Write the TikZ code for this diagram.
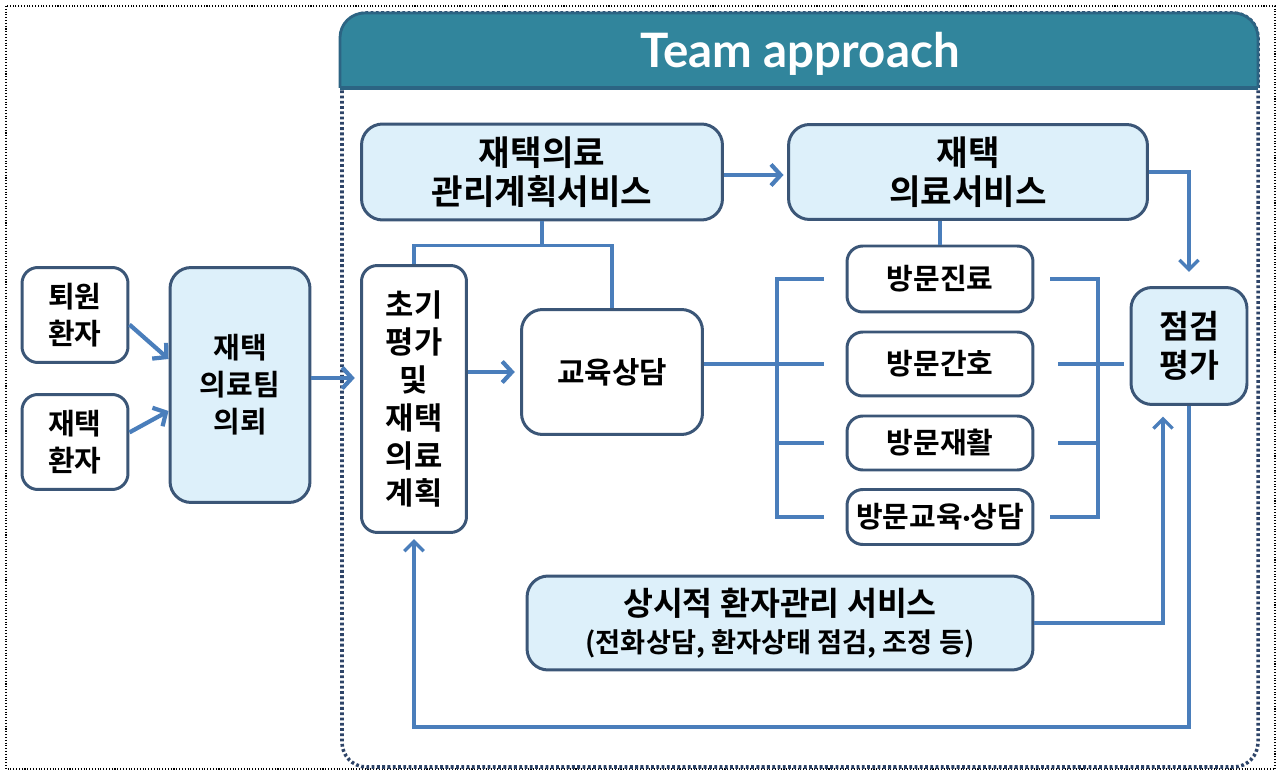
\documentclass[tikz,border=0pt]{standalone}
\usepackage{fontspec}
\setmainfont{Noto Sans CJK KR}[BoldFont={Noto Sans CJK KR Bold}]
\newfontfamily\headfont{Lato}
\usetikzlibrary{arrows.meta,calc}

\definecolor{linkblue}{HTML}{4A7EBB}
\definecolor{boxedge}{HTML}{3B5677}
\definecolor{boxfill}{HTML}{DDF0FA}
\definecolor{headfill}{HTML}{31859C}
\definecolor{headedge}{HTML}{2C6483}
\definecolor{framedot}{HTML}{2E4468}

\tikzset{
  box/.style={draw=boxedge, line width=1.7pt, rounded corners=9pt, fill=white,
    align=center, inner sep=0pt, font=\fontsize{16.5}{21}\selectfont\bfseries},
  bluebox/.style={box, fill=boxfill},
  link/.style={draw=linkblue, line width=2.4pt},
  thinlink/.style={draw=linkblue, line width=1.9pt},
  arr/.style={link, -{Straight Barb[length=5.5pt,width=12pt]}},
  thinarr/.style={thinlink, -{Straight Barb[length=5.5pt,width=11pt]}}
}

\begin{document}
\begin{tikzpicture}[x=0.02cm,y=-0.02cm]
  \useasboundingbox (0,0) rectangle (1276,770);
  \draw[black, densely dotted, line width=0.6pt] (6,6) rectangle (1275,769);

  % team approach frame
  \draw[framedot, line width=2pt, dash pattern=on 1.6pt off 1.4pt, rounded corners=14pt]
    (342,13) rectangle (1258,767);
  \begin{scope}
    \clip (330,0) rectangle (1270,88);
    \draw[fill=headfill, draw=headedge, line width=1.6pt, rounded corners=14pt]
      (340,13) rectangle (1258,130);
  \end{scope}
  \draw[headedge, line width=2pt] (340,88) -- (1258,88);
  \node[font=\headfont\fontsize{27}{30}\selectfont\bfseries, text=white] (title) at (800,54) {Team approach};

  % left part
  \node[box, minimum width=2.12cm, minimum height=1.9cm] (toewon) at (75,315) {퇴원\\환자};
  \node[box, minimum width=2.12cm, minimum height=1.9cm] (jaetaek) at (75,442) {재택\\환자};
  \node[bluebox, minimum width=2.8cm, minimum height=4.7cm, rounded corners=12pt] (team) at (240,385) {재택\\의료팀\\의뢰};

  % inside team approach
  \node[box, minimum width=2.1cm, minimum height=5.34cm, font=\fontsize{17.5}{21.5}\selectfont\bfseries] (chogi) at (414,399) {초기\\평가\\및\\재택\\의료\\계획};
  \node[box, minimum width=3.62cm, minimum height=2.5cm, rounded corners=12pt, font=\fontsize{17}{21}\selectfont\bfseries] (edu) at (612,372) {교육상담};
  \node[bluebox, minimum width=7.22cm, minimum height=1.92cm, rounded corners=12pt, font=\fontsize{19.5}{22}\selectfont\bfseries] (plan) at (542,172) {재택의료\\관리계획서비스};
  \node[bluebox, minimum width=7.18cm, minimum height=1.9cm, rounded corners=12pt, font=\fontsize{19.5}{22}\selectfont\bfseries] (service) at (968,172) {재택\\의료서비스};
  \node[box, minimum width=3.72cm, minimum height=1.32cm] (v1) at (940,279) {방문진료};
  \node[box, minimum width=3.72cm, minimum height=1.28cm] (v2) at (940,364) {방문간호};
  \node[box, minimum width=3.72cm, minimum height=1.08cm] (v3) at (940,443) {방문재활};
  \node[box, minimum width=3.72cm, minimum height=1.1cm] (v4) at (940,517) {방문교육{\headfont\bfseries ·}상담};
  \node[bluebox, minimum width=2.32cm, minimum height=2.34cm, rounded corners=12pt, font=\fontsize{18.5}{22}\selectfont\bfseries] (check) at (1189,346) {점검\\평가};
  \node[bluebox, minimum width=10.12cm, minimum height=1.88cm, rounded corners=12pt, font=\fontsize{18.5}{21}\selectfont\bfseries] (always) at (780,623)
    {상시적 환자관리 서비스\\{\fontsize{15.5}{18}\selectfont (전화상담, 환자상태 점검, 조정 등)}};

  \coordinate (lb) at (777,364);
  \coordinate (rb) at (1098,364);

  % connectors
  \draw[arr] (toewon.-10) -- (team.160);
  \draw[arr] (jaetaek.10) -- (team.200);
  \draw[arr, shorten >=3pt] ($(team.east)+(0,-7)$) -- ($(team.east -| chogi.west)+(0,-7)$);
  \draw[arr, shorten >=3pt] (edu.west -| chogi.east) -- (edu.west);
  \draw[thinlink] (plan.south) -- ++(0,24) -| (chogi.north);
  \draw[thinlink] (plan.south) -- ++(0,24) -| (edu.north);
  \draw[arr, shorten >=2pt] ($(plan.east)+(0,3)$) -- ($(service.west)+(0,3)$);
  \draw[link] (v1.north |- service.south) -- (v1.north);
  \draw[thinarr, shorten >=8pt] (service.east) -| (check.north);

  \draw[link] (edu.east |- lb) -- (lb);
  \draw[link] ($(v1.west)+(-22,0)$) -- (v1.west -| lb) -- (v4.west -| lb) -- ($(v4.west)+(-22,0)$);
  \draw[link] (v2.west -| lb) -- ($(v2.west)+(-22,0)$);
  \draw[link] (v3.west -| lb) -- ($(v3.west)+(-22,0)$);

  \draw[link] ($(v1.east)+(16,0)$) -- (v1.east -| rb) -- (v4.east -| rb) -- ($(v4.east)+(16,0)$);
  \draw[link] ($(v2.east)+(24,0)$) -- ($(v2.east -| check.west)+(-6,0)$);
  \draw[link] ($(v3.east)+(24,0)$) -- (v3.east -| rb);

  \draw[thinarr, shorten >=6pt] (always.east) -| ($(check.south)+(-26,0)$);
  \draw[thinarr, shorten >=3pt] (check.south) -- ++(0,321) -| (chogi.south);
\end{tikzpicture}
\end{document}
